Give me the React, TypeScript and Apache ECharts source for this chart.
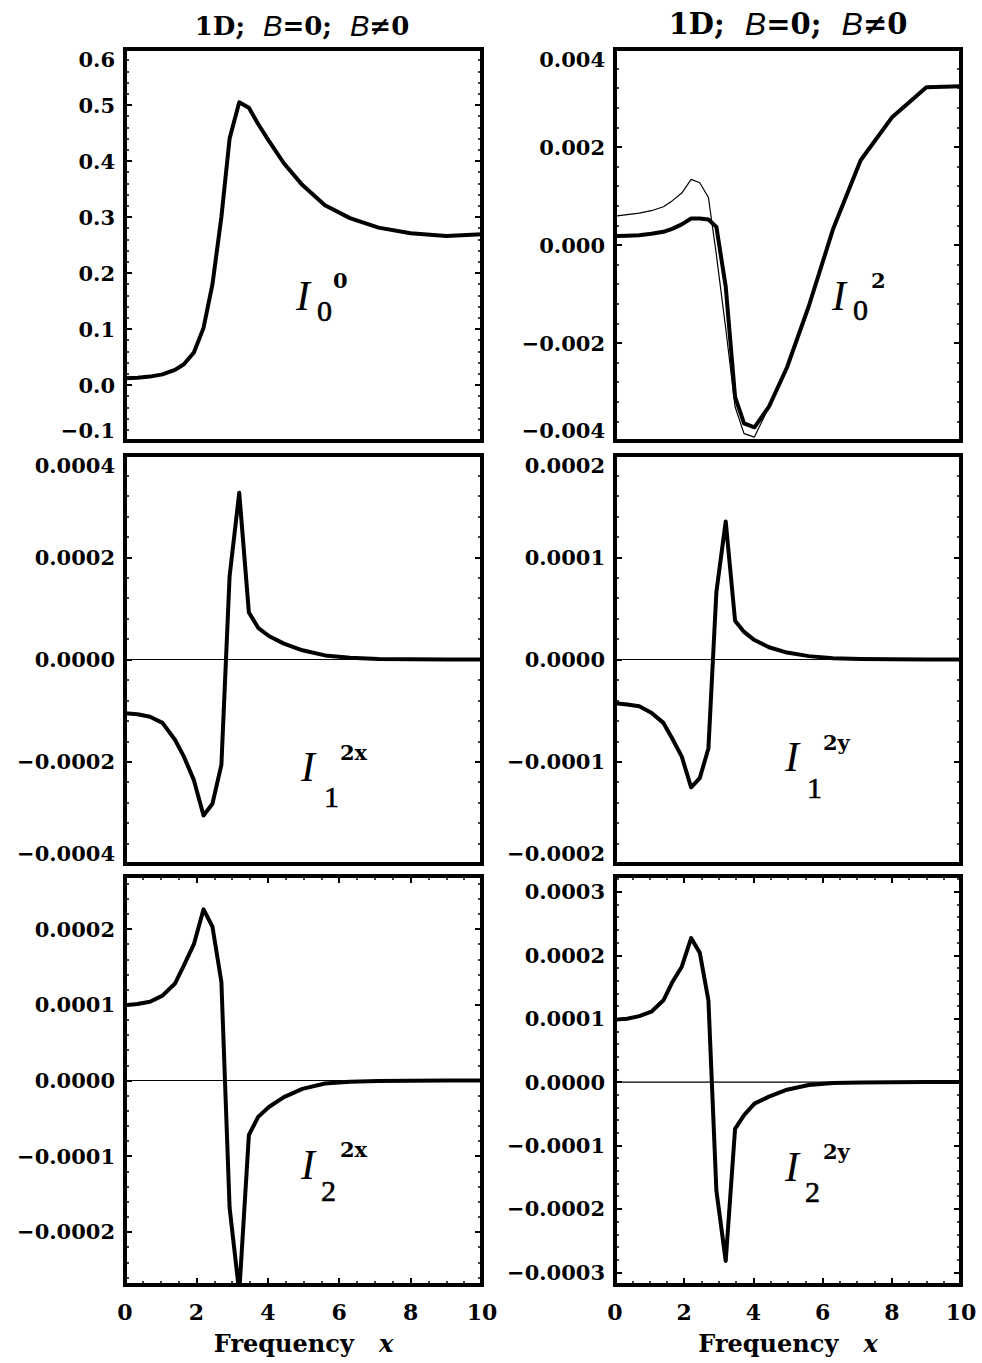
import React, { useEffect, useRef } from 'react';
import * as echarts from 'echarts';

// Frequency grid (x)
const FREQ = [0, 0.35, 0.7, 1.05, 1.4, 1.65, 1.93, 2.2, 2.45, 2.7, 2.93, 3.2, 3.47, 3.73, 4.03, 4.45, 4.97, 5.6, 6.3, 7.1, 8.0, 9.0, 10.0];

// I_0^0 (B=0 and B≠0 coincide)
const I00 = [0.012, 0.013, 0.015, 0.019, 0.027, 0.037, 0.058, 0.102, 0.18, 0.30, 0.44, 0.505, 0.495, 0.466, 0.436, 0.396, 0.357, 0.321, 0.298, 0.281, 0.271, 0.266, 0.269];

// I_0^2
const I02_B0 = [0.00059, 0.00062, 0.00065, 0.0007, 0.00078, 0.0009, 0.00106, 0.00134, 0.00127, 0.00097, -0.0002, -0.0017, -0.0033, -0.00385, -0.00392, -0.0033, -0.0025, -0.00125, 0.00032, 0.00173, 0.0026, 0.00322, 0.00324];
const I02_BNZ = [0.000184, 0.00019, 0.0002, 0.00023, 0.00027, 0.00033, 0.00042, 0.00054, 0.00054, 0.00052, 0.00037, -0.00085, -0.0031, -0.00364, -0.00372, -0.0033, -0.0025, -0.00125, 0.00032, 0.00173, 0.0026, 0.00322, 0.00324];

// B=0 gives zero for the other components
const ZERO_B0 = [0, 0, 0, 0, 0, 0, 0, 0, 0, 0, 0, 0, 0, 0, 0, 0, 0, 0, 0, 0, 0, 0, 0];

const I12X_BNZ = [-0.000105, -0.000107, -0.000112, -0.000124, -0.000157, -0.00019, -0.000236, -0.000305, -0.000282, -0.000206, 0.000163, 0.000326, 0.000092, 0.000062, 0.000046, 0.000031, 0.000018, 0.000008, 0.0000035, 0.0000012, 0.0000004, 0.0000001, 0];
const I12Y_BNZ = [-0.0000428, -0.000044, -0.0000458, -0.000052, -0.000062, -0.000077, -0.000095, -0.000125, -0.000116, -0.000087, 0.000066, 0.000135, 0.000038, 0.000027, 0.000019, 0.000012, 0.0000068, 0.0000033, 0.0000013, 0.0000005, 0.0000002, 0.0000001, 0];
const I22X_BNZ = [0.0000995, 0.000101, 0.000104, 0.000112, 0.000128, 0.000152, 0.00018, 0.000226, 0.000203, 0.00013, -0.000168, -0.00028, -0.000072, -0.000048, -0.000035, -0.000022, -0.000011, -0.000004, -0.0000015, -0.0000005, -0.0000002, 0, 0];
const I22Y_BNZ = [0.0000985, 0.0001, 0.000104, 0.000111, 0.000129, 0.000157, 0.000182, 0.000227, 0.000204, 0.000129, -0.000171, -0.000282, -0.0000737, -0.000052, -0.000034, -0.000023, -0.000012, -0.0000045, -0.0000016, -0.0000005, -0.0000002, 0, 0];

// Y ranges [min, max] and tick intervals
const Y_RANGES = [[-0.1, 0.6], [-0.004, 0.004], [-0.0004, 0.0004], [-0.0002, 0.0002], [-0.00027, 0.00027], [-0.00032, 0.000325]];
const Y_INTERVALS = [0.1, 0.002, 0.0002, 0.0001, null, null];
const Y_DECIMALS = [1, 3, 4, 4, 4, 4];
const X_TICKS = [0, 2, 4, 6, 8, 10];
const SUBS = ['0', '0', '1', '1', '2', '2'];
const SUPS = ['0', '2', '2x', '2y', '2x', '2y'];
const TITLE_PARTS = ['1D;', 'B', '=0;', 'B', '≠0'];
const XNAME = ['Frequency', 'x'];

const SERIF = "'DejaVu Serif', serif";
const TIMES = "'Liberation Serif', serif";
const NB = '\u00a0';

const COLS = [{ left: 125, width: 357 }, { left: 615, width: 346 }];
const ROWS = [{ top: 49, height: 392 }, { top: 455, height: 409 }, { top: 876, height: 409 }];

const ANN = [
  { I: [296, 296], sub: [317, 310], sup: [333, 280] },
  { I: [832, 296], sub: [853, 309], sup: [871, 280] },
  { I: [301, 767], sub: [324, 796], sup: [340, 752] },
  { I: [785, 757], sub: [807, 787], sup: [823, 742] },
  { I: [301, 1165], sub: [321, 1190], sup: [340, 1149] },
  { I: [785, 1167], sub: [805, 1191], sup: [823, 1151] },
];

const fmt = (d: number) => (v: number) => {
  const s = Math.abs(v) < 1e-12 ? (0).toFixed(d) : v.toFixed(d);
  return s.replace('-', '\u2212');
};

function buildOption() {
  const thinData = [I00, I02_B0, ZERO_B0, ZERO_B0, ZERO_B0, ZERO_B0];
  const thickData = [I00, I02_BNZ, I12X_BNZ, I12Y_BNZ, I22X_BNZ, I22Y_BNZ];
  const grids: any[] = [];
  const xAxes: any[] = [];
  const yAxes: any[] = [];
  const series: any[] = [];
  const graphics: any[] = [];

  const tickStyle = { color: '#000', width: 2 };
  const minorStyle = { color: '#000', width: 1.5 };
  const labelFont = { fontFamily: SERIF, fontWeight: 'bold' as const, fontSize: 21, color: '#000' };

  for (let i = 0; i < 6; i++) {
    const row = Math.floor(i / 2);
    const col = i % 2;
    const bottomRow = row === 2;
    grids.push({
      left: COLS[col].left, width: COLS[col].width, top: ROWS[row].top, height: ROWS[row].height,
      show: true, borderColor: '#000', borderWidth: 4, backgroundColor: 'transparent', containLabel: false,
    });
    for (const pos of ['bottom', 'top']) {
      xAxes.push({
        type: 'value', gridIndex: i, position: pos, min: X_TICKS[0], max: X_TICKS[X_TICKS.length - 1], interval: 2,
        axisLine: { show: false, onZero: false },
        axisTick: { show: bottomRow, inside: true, length: 7, lineStyle: tickStyle },
        minorTick: { show: bottomRow, splitNumber: 4, length: 4, lineStyle: minorStyle },
        splitLine: { show: false },
        axisLabel: { show: bottomRow && pos === 'bottom', margin: 16, ...labelFont, fontSize: 22 },
        name: bottomRow && pos === 'bottom' ? `{a|${XNAME[0]}}{s|${NB}${NB}${NB}}{b|${XNAME[1]}}` : '',
        nameLocation: 'middle', nameGap: 46,
        nameTextStyle: {
          rich: {
            a: { fontFamily: SERIF, fontWeight: 'bold', fontSize: 24, color: '#000' },
            s: { fontFamily: SERIF, fontWeight: 'bold', fontSize: 24, color: '#000' },
            b: { fontFamily: SERIF, fontWeight: 'bold', fontStyle: 'italic', fontSize: 24, color: '#000' },
          },
        },
      });
    }
    const [mn, mx] = Y_RANGES[i];
    const iv = Y_INTERVALS[i];
    for (const pos of ['left', 'right']) {
      const ax: any = {
        type: 'value', gridIndex: i, position: pos, min: mn, max: mx,
        axisLine: { show: false, onZero: false },
        axisTick: { show: true, inside: true, length: 7, lineStyle: tickStyle },
        minorTick: { show: true, splitNumber: 5, length: 4, lineStyle: minorStyle },
        splitLine: { show: false },
        axisLabel: {
          show: pos === 'left', margin: 10, ...labelFont, formatter: fmt(Y_DECIMALS[i]),
          showMinLabel: iv !== null, showMaxLabel: iv !== null,
          verticalAlignMinLabel: 'bottom', verticalAlignMaxLabel: 'top',
        },
      };
      if (iv !== null) ax.interval = iv; else ax.splitNumber = 5;
      yAxes.push(ax);
    }
    series.push({
      type: 'line', xAxisIndex: 2 * i, yAxisIndex: 2 * i, showSymbol: false, symbol: 'none',
      data: FREQ.map((x, k) => [x, thinData[i][k]]),
      lineStyle: { color: '#000', width: 1.2 }, silent: true, z: 2,
    });
    series.push({
      type: 'line', xAxisIndex: 2 * i, yAxisIndex: 2 * i, showSymbol: false, symbol: 'none',
      data: FREQ.map((x, k) => [x, thickData[i][k]]),
      lineStyle: { color: '#000', width: 4, join: 'round' }, silent: true, z: 3,
    });

    const a = ANN[i];
    graphics.push(
      { type: 'text', x: a.I[0], y: a.I[1], style: { text: 'I', fontFamily: TIMES, fontStyle: 'italic', fontSize: 42, fill: '#000', textAlign: 'left', textVerticalAlign: 'middle' } },
      { type: 'text', x: a.sub[0], y: a.sub[1], style: { text: SUBS[i], fontFamily: TIMES, fontSize: 30, fill: '#000', stroke: '#000', lineWidth: 0.6, textAlign: 'left', textVerticalAlign: 'middle' } },
      { type: 'text', x: a.sup[0], y: a.sup[1], style: { text: SUPS[i], fontFamily: SERIF, fontWeight: 'bold', fontSize: 21, fill: '#000', textAlign: 'left', textVerticalAlign: 'middle' } },
    );
  }

  const titleRich = (n: number, it: number) => ({
    n: { fontFamily: SERIF, fontWeight: 'bold', fontSize: n, fill: '#000', color: '#000' },
    i: { fontFamily: "'Liberation Sans', sans-serif", fontStyle: 'italic', fontSize: it, fill: '#000', color: '#000' },
  });
  const gap = `{n|${NB}${NB}}`;
  const titleStr = `{n|${TITLE_PARTS[0]}}${gap}{i|${TITLE_PARTS[1]}}{n|${TITLE_PARTS[2]}}${gap}{i|${TITLE_PARTS[3]}}{n|${TITLE_PARTS[4]}}`;
  graphics.push(
    { type: 'text', x: 302, y: 26, style: { text: titleStr, rich: titleRich(26, 29), textAlign: 'center', textVerticalAlign: 'middle', fill: '#000' } },
    { type: 'text', x: 788, y: 24, style: { text: titleStr, rich: titleRich(29, 32), textAlign: 'center', textVerticalAlign: 'middle', fill: '#000' } },
  );

  return {
    animation: false,
    backgroundColor: '#fff',
    grid: grids,
    xAxis: xAxes,
    yAxis: yAxes,
    series,
    graphic: graphics,
  };
}

export default function App() {
  const ref = useRef<HTMLDivElement>(null);
  useEffect(() => {
    const chart = echarts.init(ref.current!, null, { renderer: 'svg' });
    chart.setOption(buildOption() as any);
    return () => chart.dispose();
  }, []);
  return <div ref={ref} style={{ position: 'absolute', left: 0, top: 0, width: 982, height: 1363, background: '#fff' }} />;
}
